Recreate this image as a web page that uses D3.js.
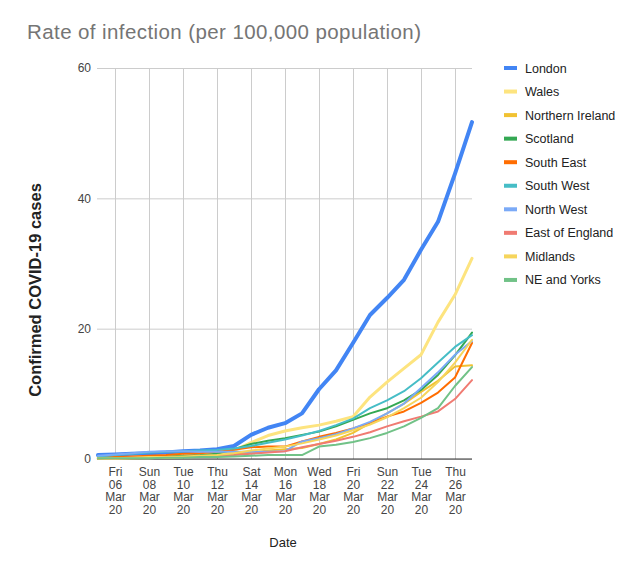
<!DOCTYPE html>
<html><head><meta charset="utf-8">
<script src="https://cdn.jsdelivr.net/npm/d3@7/dist/d3.min.js"></script>
<style>
body{margin:0;background:#fff;}
svg text{font-family:Arial,"Liberation Sans",sans-serif;}
</style></head><body>
<svg id="chart" width="640" height="571"></svg>
<script>
// ---- data ----
const dates = ["2020-03-05","2020-03-06","2020-03-07","2020-03-08","2020-03-09","2020-03-10","2020-03-11","2020-03-12",
  "2020-03-13","2020-03-14","2020-03-15","2020-03-16","2020-03-17","2020-03-18","2020-03-19","2020-03-20",
  "2020-03-21","2020-03-22","2020-03-23","2020-03-24","2020-03-25","2020-03-26","2020-03-27"];
const london   = [0.6,0.7,0.8,0.9,1.0,1.2,1.3,1.5,2.0,3.7,4.8,5.5,7.0,10.7,13.6,17.8,22.1,24.7,27.5,32.1,36.4,43.8,51.7];
const wales    = [0.1,0.1,0.2,0.2,0.3,0.4,0.5,0.7,1.3,2.5,3.6,4.3,4.8,5.2,5.8,6.5,9.5,11.8,13.9,16.0,21.0,25.2,30.8];
const nIreland = [0.1,0.1,0.1,0.2,0.2,0.3,0.4,0.5,0.7,1.0,1.3,1.5,1.7,2.3,3.0,4.0,5.5,7.0,8.5,10.3,12.0,14.2,14.4];
const scotland = [0.1,0.2,0.2,0.3,0.4,0.5,0.6,0.8,1.5,2.3,2.8,3.2,3.7,4.2,5.0,6.0,7.0,7.8,9.0,10.6,12.9,15.9,19.4];
const southEast= [0.2,0.3,0.4,0.5,0.6,0.8,0.9,1.1,1.4,1.8,1.9,1.9,2.7,3.4,4.0,4.7,5.5,6.5,7.3,8.6,10.2,12.5,17.8];
const southWest= [0.4,0.6,0.8,1.0,1.1,1.2,1.3,1.4,1.6,2.0,2.5,3.0,3.6,4.3,5.2,6.2,7.8,9.0,10.4,12.4,14.8,17.2,19.0];
const northWest= [0.5,0.7,0.9,1.1,1.2,1.2,1.1,1.1,1.1,1.1,1.1,1.2,2.7,3.2,3.8,4.7,5.7,7.0,8.5,10.9,13.3,16.0,18.1];
const eastEng  = [0.1,0.1,0.2,0.2,0.3,0.3,0.4,0.5,0.6,0.8,1.0,1.2,1.8,2.3,2.8,3.4,4.1,5.0,5.8,6.5,7.3,9.2,12.1];
const midlands = [0.1,0.1,0.2,0.3,0.3,0.4,0.5,0.6,0.9,1.3,1.6,1.9,2.4,3.0,3.6,4.4,5.3,6.4,7.8,9.4,11.8,14.8,18.3];
const neYorks  = [0.1,0.1,0.1,0.1,0.2,0.2,0.3,0.3,0.4,0.5,0.6,0.6,0.6,1.9,2.2,2.6,3.2,4.0,5.0,6.3,7.8,11.2,14.1];

const seriesNames = ["London","Wales","Northern Ireland","Scotland","South East","South West","North West","East of England","Midlands","NE and Yorks"];
const seriesValues = [london,wales,nIreland,scotland,southEast,southWest,northWest,eastEng,midlands,neYorks];
const seriesColors = ["#4285f4","#fde47f","#f1c232","#34a853","#ff6d01","#46bdc6","#7baaf7","#f07b72","#f6d55c","#71c287"];
const seriesWidths = [4,3,2,2,2,2,2,2,2,2];

const xTickDates = ["2020-03-06","2020-03-08","2020-03-10","2020-03-12","2020-03-14","2020-03-16","2020-03-18","2020-03-20","2020-03-22","2020-03-24","2020-03-26"];
const yTicks = [0,20,40,60];

const titleText = "Rate of infection (per 100,000 population)";
const yTitle = "Confirmed COVID-19 cases";
const xTitle = "Date";

// ---- layout ----
const parse = d3.utcParse("%Y-%m-%d");
const L = 97, R = 472, T = 68, B = 459;
const svg = d3.select("#chart");

const x = d3.scaleUtc().domain([parse(dates[0]), parse(dates[dates.length-1])]).range([L+1, R]);
const y = d3.scaleLinear().domain([0,60]).range([B, T]);

svg.append("text").attr("x",27).attr("y",38.5).attr("font-size",20.5).attr("fill","#757575")
  .attr("textLength",394).attr("lengthAdjust","spacing").text(titleText);

// y axis + horizontal gridlines
const yAxis = svg.append("g").attr("transform",`translate(${L},0)`)
  .call(d3.axisLeft(y).tickValues(yTicks).tickSize(-(R-L)).tickPadding(6).tickFormat(d3.format("d")));
yAxis.select(".domain").remove();
yAxis.selectAll(".tick line").attr("stroke","#cccccc");
yAxis.selectAll(".tick text").attr("font-size",12).attr("fill","#444").style("font-family","Arial,'Liberation Sans',sans-serif");

// x axis + vertical gridlines
const xAxis = svg.append("g").attr("transform",`translate(0,${B})`)
  .call(d3.axisBottom(x).tickValues(xTickDates.map(parse)).tickSize(-(B-T)).tickPadding(0).tickFormat(""));
xAxis.select(".domain").remove();
xAxis.selectAll(".tick line").attr("stroke","#cccccc");
const fmts = [d3.utcFormat("%a"), d3.utcFormat("%d"), d3.utcFormat("%b"), d3.utcFormat("%y")];
xAxis.selectAll(".tick text").each(function(d){
  const t = d3.select(this).attr("y",null).attr("dy",null).attr("font-size",12).attr("fill","#444")
    .style("font-family","Arial,'Liberation Sans',sans-serif");
  fmts.forEach((f,i)=>{ t.append("tspan").attr("x",0).attr("y",17+i*12.5).text(f(d)); });
});

// baseline
svg.append("line").attr("x1",L).attr("x2",R).attr("y1",y(0)).attr("y2",y(0)).attr("stroke","#333").attr("stroke-width",1);

// lines
const line = d3.line().x((d,i)=>x(parse(dates[i]))).y(d=>y(d));
seriesValues.forEach((vals,k)=>{
  svg.append("path").datum(vals).attr("d",line).attr("fill","none")
    .attr("stroke",seriesColors[k]).attr("stroke-width",seriesWidths[k])
    .attr("stroke-linejoin","round").attr("stroke-linecap","round");
});

// axis titles
svg.append("text").attr("transform","translate(41,290) rotate(-90)").attr("text-anchor","middle")
  .attr("font-size",16.5).attr("font-weight","bold").attr("fill","#222").text(yTitle);
svg.append("text").attr("x",283).attr("y",547).attr("text-anchor","middle").attr("font-size",13).attr("fill","#222").text(xTitle);

// legend
const leg = svg.append("g");
seriesNames.forEach((n,k)=>{
  const cy = 68 + k*23.55;
  leg.append("rect").attr("x",504).attr("y",cy-2).attr("width",13).attr("height",4).attr("fill",seriesColors[k]);
  leg.append("text").attr("x",525).attr("y",cy+4.5).attr("font-size",12.5).attr("fill","#222").text(n);
});
</script>
</body></html>
